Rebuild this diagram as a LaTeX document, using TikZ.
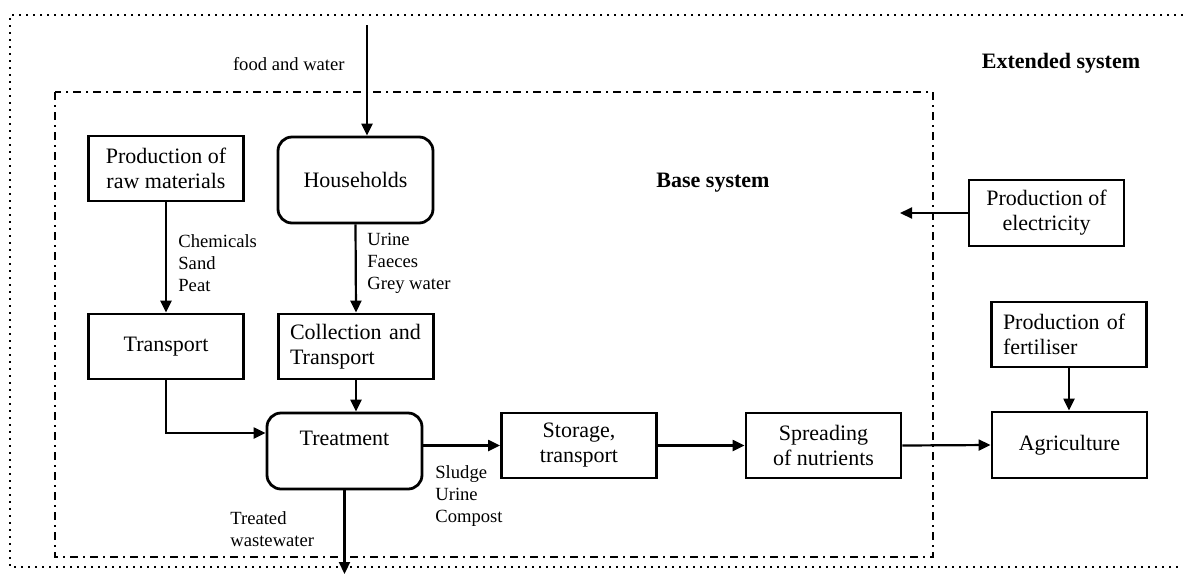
\documentclass[tikz,border=0pt]{standalone}
\usepackage{fontspec}
\setmainfont{Liberation Serif}
\usetikzlibrary{arrows.meta,calc}
\begin{document}
\begin{tikzpicture}[x=0.5pt,y=0.5pt,yscale=-1,xscale=1,
  box/.style={draw,line width=1.4pt,minimum width=77.5pt,minimum height=32.5pt,inner sep=1pt,align=center,font=\fontsize{11}{12.5}\selectfont},
  rbox/.style={box,rounded corners=7pt},
  lbox/.style={box,align=left,text width=66pt,inner xsep=5.5pt},
  lbl/.style={anchor=west,inner sep=0pt,align=left,font=\fontsize{9.3}{11}\selectfont},
  flow/.style={line width=1.1pt,-{Triangle[length=6pt,width=5.5pt]}},
  title/.style={inner sep=0pt,font=\fontsize{11}{13}\selectfont\bfseries}]
            \useasboundingbox (0,0) rectangle (1183,574);
            % system borders
            \draw [line width=1.1pt,dash pattern=on 1pt off 2.5pt] (1183,15) -- (10,15) -- (10,567) -- (1183,567) ;
            \draw [line width=1.1pt,dash pattern=on 4pt off 2.5pt on 1pt off 2.5pt] (55,92) rectangle (933,557) ;
            \node [title] (ext) at (1061,63) {Extended system};
            \node [title] (base) at (713,183) {Base system};
            % boxes
            \node [box] (raw) at (166,168.5) {Production of\\raw materials};
            \node [rbox,minimum height=43pt] (house) at (355.5,180) {Households};
            \node [box] (transp) at (166,346.5) {Transport};
            \node [lbox] (collect) at (356,346.5) {Collection and\\Transport};
            \node [rbox,minimum height=38pt,text height=8pt,text depth=14pt] (treat) at (344.5,451) {Treatment};
            \node [box] (store) at (579,445.5) {Storage,\\transport};
            \node [box] (spread) at (823.5,445.5) {Spreading\\of nutrients};
            \node [box,minimum height=33pt] (agri) at (1069.5,445) {Agriculture};
            \node [lbox] (fert) at (1069,334.5) {Production of\\fertiliser};
            \node [box,minimum height=33pt] (elec) at (1046.5,213) {Production of\\electricity};
            % free ends
            \coordinate (foodin) at (367,25);
            \coordinate (elecin) at (900,212);
            \coordinate (wwout) at (343,574);
            % flows
            \draw [flow] (foodin) -- (foodin |- house.north) ;
            \draw [flow] (raw.south) -- (transp.north) ;
            \draw [flow] (house.south) -- (collect.north) ;
            \draw [flow] (transp.south) |- ($(treat.west)+(0,-18)$) ;
            \draw [flow] (collect.south) -- (collect.south |- treat.north) ;
            \draw [flow] (treat.east |- store.west) -- (store.west) ;
            \draw [flow] (store.east) -- (spread.west) ;
            \draw [flow] (spread.east) -- (agri.west) ;
            \draw [flow] (fert.south) -- (fert.south |- agri.north) ;
            \draw [flow] (elec.west) -- (elecin |- elec.west) ;
            \draw [flow] (treat.south) -- (treat.south |- wwout) ;
            % flow labels
            \node [lbl,anchor=east] (foodlbl) at (345,64) {food and water};
            \node [lbl] (rawlbl) at (178,263) {Chemicals\\Sand\\Peat};
            \node [lbl] (hhlbl) at (367,263) {Urine\\Faeces\\Grey water};
            \node [lbl] (sludgelbl) at (435,496) {Sludge\\Urine\\Compost};
            \node [lbl] (wwlbl) at (230,529) {Treated\\wastewater};
\end{tikzpicture}
\end{document}
